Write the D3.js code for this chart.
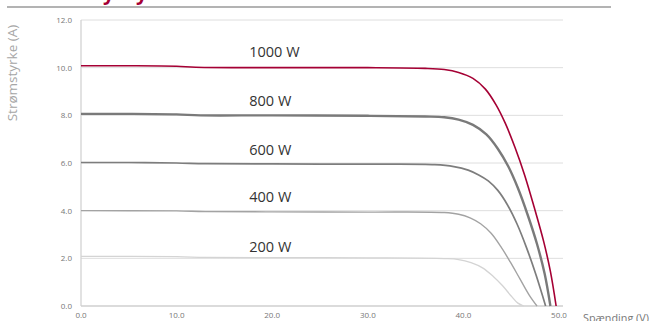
<!DOCTYPE html>
<html><head><meta charset="utf-8">
<script src="https://cdn.jsdelivr.net/npm/d3@7"></script>
<style>body{margin:0;background:#fff}svg{display:block;font-family:"Open Sans",sans-serif}</style>
</head><body>
<svg id="c" width="656" height="321"></svg>
<script>
// Data (voltage V, current A)
const seriesNames = ["1000 W","800 W","600 W","400 W","200 W"];
const labelLevels = [10.45, 8.4, 6.33, 4.36, 2.27];
const s1000 = [[0,10.08],[5,10.08],[10,10.06],[12,10.02],[20,10.0],[30,10.0],[36,9.97],[38,9.92],[39.5,9.8],[41,9.55],[42.3,9.1],[43.4,8.45],[44.4,7.65],[45.4,6.65],[46.4,5.5],[47.4,4.15],[48.4,2.7],[49.1,1.45],[49.7,0]];
const s800 = [[0,8.06],[5,8.06],[10,8.04],[12.5,8.0],[20,8.0],[30,7.98],[36,7.95],[38,7.92],[39.5,7.82],[41,7.6],[42.4,7.2],[43.6,6.6],[44.7,5.85],[45.7,4.95],[46.7,3.85],[47.7,2.6],[48.5,1.35],[49.1,0]];
const s600 = [[0,6.02],[5,6.02],[10,6.0],[13,5.97],[20,5.96],[30,5.95],[37,5.93],[39,5.85],[40.5,5.7],[41.6,5.5],[42.6,5.25],[43.6,4.85],[44.6,4.25],[45.6,3.45],[46.6,2.45],[47.6,1.3],[48.6,0]];
const s400 = [[0,4.0],[10,3.99],[13,3.96],[20,3.95],[30,3.94],[38,3.92],[39.5,3.85],[40.7,3.7],[41.8,3.45],[42.9,3.05],[43.9,2.5],[44.9,1.85],[45.9,1.15],[46.9,0.45],[47.7,0]];
const s200 = [[0,2.08],[10,2.07],[13,2.04],[20,2.03],[30,2.02],[38,1.99],[39.5,1.95],[40.8,1.82],[42,1.6],[43.1,1.25],[44.1,0.85],[45,0.42],[45.7,0.12],[46.3,0]];
const seriesData = [s1000, s800, s600, s400, s200];
const xTicks = [0,10,20,30,40,50];
const yTicks = [0,2,4,6,8,10,12];
const titleText = "Polykrystallinsk modul";

const svg = d3.select("#c");
const x = d3.scaleLinear().domain([0,50]).range([81,559]);
const y = d3.scaleLinear().domain([0,12]).range([306,20]);

// header
svg.append("line").attr("x1",7).attr("x2",611).attr("y1",7).attr("y2",7).attr("stroke","#9a9a9a").attr("stroke-width",1.6);
svg.append("text").attr("x",72).attr("y",-0.5).attr("fill","#a50034").attr("font-weight","bold").attr("font-size",20).text(titleText);

// grid
svg.append("g").selectAll("line").data(yTicks.filter(d=>d>0)).join("line")
  .attr("x1",x(0)).attr("x2",563).attr("y1",d=>y(d)).attr("y2",d=>y(d))
  .attr("stroke","#dedede").attr("stroke-width",1);
// axes lines
svg.append("line").attr("x1",x(0)).attr("x2",x(0)).attr("y1",y(12)).attr("y2",y(0)).attr("stroke","#cfcfcf").attr("stroke-width",1.2);
svg.append("line").attr("x1",x(0)).attr("x2",563).attr("y1",y(0)).attr("y2",y(0)).attr("stroke","#cfcfcf").attr("stroke-width",1.5);

// tick labels
svg.append("g").selectAll("text").data(yTicks).join("text")
  .attr("x",72).attr("y",d=>y(d)+3).attr("text-anchor","end").attr("font-size",8).attr("fill","#777")
  .text(d=>d3.format(".1f")(d));
svg.append("g").selectAll("text").data(xTicks).join("text")
  .attr("x",d=>x(d)).attr("y",318).attr("text-anchor","middle").attr("font-size",8).attr("fill","#777")
  .text(d=>d3.format(".1f")(d));

// axis titles
svg.append("text").attr("transform","translate(17,73) rotate(-90)").attr("text-anchor","middle")
  .attr("font-size",13.5).attr("fill","#a6a6a6").text("Strømstyrke (A)");
svg.append("text").attr("x",583).attr("y",322).attr("font-size",10.8).attr("fill","#777").text("Spænding (V)");

// curves
const colors = ["#a50034","#7a7a7a","#7d7d7d","#a3a3a3","#d4d4d4"];
const widths = [1.6,2.4,1.7,1.4,1.3];
const line = d3.line().x(d=>x(d[0])).y(d=>y(d[1])).curve(d3.curveCatmullRom.alpha(0.5));
const order = [4,3,2,1,0];
svg.append("g").selectAll("path").data(order).join("path")
  .attr("d",i=>line(seriesData[i])).attr("fill","none")
  .attr("stroke",i=>colors[i]).attr("stroke-width",i=>widths[i]);

// labels
svg.append("g").selectAll("text").data(seriesNames).join("text")
  .attr("x",x(17.6)).attr("y",(d,i)=>y(labelLevels[i])).attr("font-size",14.5).attr("fill","#333").text(d=>d);
</script>
</body></html>
